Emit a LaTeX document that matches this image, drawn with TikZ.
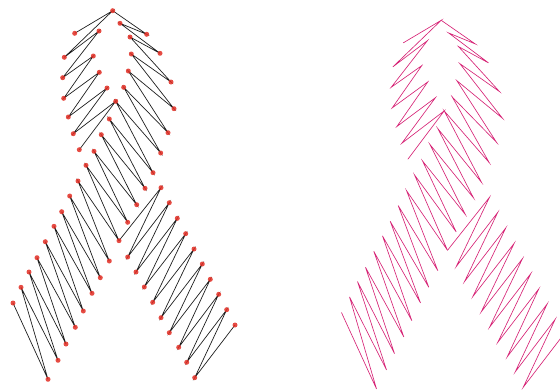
\documentclass[tikz,border=0pt]{standalone}
\definecolor{dotred}{RGB}{226,45,35}
\definecolor{ink}{RGB}{30,30,30}
\definecolor{pinkline}{RGB}{214,36,118}
\tikzset{
  stitch/.style={draw=ink, line width=0.7pt, line join=miter},
  pinkstitch/.style={draw=pinkline, line width=0.65pt, line join=miter},
  dot/.style={fill=dotred, fill opacity=0.85}
}
\newcommand\defpts[1]{%
  \coordinate (#1S) at (74.7,33.3);
  \coordinate (#1T) at (112.7,10.7);
  \foreach \n/\x/\y in {1/64.3/57.3,2/62.7/77.7,3/63.7/98.3,4/68.3/117,5/73.3/133.7,6/79.3/149.7}
    {\coordinate (#1o\n) at (\x,\y);}
  \foreach \n/\x/\y in {0/99/31,1/93.3/56,2/99.3/72.3,3/107/88}
    {\coordinate (#1i\n) at (\x,\y);}
  \foreach \n/\x/\y in {0/120/23.3,1/130/37,2/131.3/54,3/128.3/71,4/123.7/87.3,5/115.7/101.3,
      6/109.3/119,7/101.3/134.7,8/94/151.3,9/86/165.3,10/78/181,11/69.7/196,12/61.7/211.7,
      13/54/226.3,14/45.3/241.7,15/37/257.7,16/29/272,17/21/287.3,18/13/303}
    {\coordinate (#1u\n) at (\x,\y);}
  \foreach \n/\x/\y in {0/146.7/34.3,1/160/53.3,2/171/82,3/174/108.7,4/168/132.7,5/160.7/153,
      6/153/172.7,7/145/188.3,8/136.7/204.7,9/127.7/222.3,10/119/240.7,11/109.3/261,
      12/100.3/277.7,13/92/293.3,14/83.3/311,15/75.3/327.3,16/66/344,17/58/360.3,18/48/379.3}
    {\coordinate (#1r\n) at (\x,\y);}
  \foreach \n/\x/\y in {0/161/187.7,1/169.3/202.7,2/177.3/218.3,3/185.7/233.7,4/194/249,
      5/202.3/264,6/210.3/279.3,7/218.7/294.3,8/226.7/309.7,9/235/325}
    {\coordinate (#1q\n) at (\x,\y);}
  \foreach \n/\x/\y in {0/127.7/257,1/136/272,2/144.3/287,3/152.7/302.3,4/161/317.7,
      5/169.3/332.7,6/178.7/347.3,7/186.7/362.3,8/194.7/377.7}
    {\coordinate (#1l\n) at (\x,\y);}
}
\newcommand\drawribbon[2]{%
  \draw[#2] (#1S) -- (#1T) -- (#1o1) -- (#1i0) -- (#1o2) -- (#1i1) -- (#1o3) -- (#1i2)
     -- (#1o4) -- (#1i3) -- (#1o5) -- (#1u5) -- (#1o6);
  \draw[#2] (#1T) \foreach \k in {0,...,18} { -- (#1r\k) -- (#1u\k) };
  \draw[#2] (#1r10) \foreach \k in {0,...,8} { -- (#1q\k) -- (#1l\k) } -- (#1q9);
}
\begin{document}
\begin{tikzpicture}[x=1pt,y=-1pt]
\useasboundingbox (0,0) rectangle (560,391);
\clip (0,0) rectangle (560,391);
\defpts{a}
\drawribbon{a}{stitch}
\foreach \p in {S,T,o1,o2,o3,o4,o5,o6,i0,i1,i2,i3}
  {\fill[dot] (a\p) circle (2.5);}
\foreach \k in {0,...,18} {\fill[dot] (au\k) circle (2.5); \fill[dot] (ar\k) circle (2.5);}
\foreach \k in {0,...,9} {\fill[dot] (aq\k) circle (2.5);}
\foreach \k in {0,...,8} {\fill[dot] (al\k) circle (2.5);}
\begin{scope}[shift={(328.5,9.6)}]
\defpts{b}
\end{scope}
\drawribbon{b}{pinkstitch}
\end{tikzpicture}
\end{document}
